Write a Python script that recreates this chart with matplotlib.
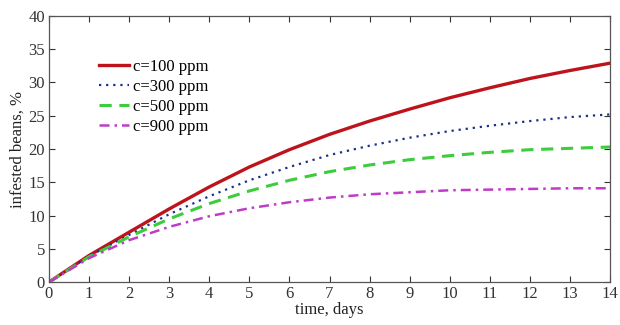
import matplotlib
matplotlib.use("Agg")
import matplotlib.pyplot as plt

plt.rcParams["font.family"] = ["Liberation Serif", "DejaVu Serif"]

days = [0, 1, 2, 3, 4, 5, 6, 7, 8, 9, 10, 11, 12, 13, 14]
c100 = [0, 4.0, 7.5, 11.0, 14.3, 17.3, 19.9, 22.2, 24.2, 26.0, 27.7, 29.2, 30.6, 31.8, 32.9]
c300 = [0, 3.9, 7.1, 10.2, 12.9, 15.3, 17.3, 19.1, 20.5, 21.7, 22.7, 23.5, 24.2, 24.8, 25.2]
c500 = [0, 3.8, 6.8, 9.5, 11.8, 13.7, 15.3, 16.6, 17.6, 18.4, 19.0, 19.5, 19.9, 20.1, 20.3]
c900 = [0, 3.6, 6.3, 8.3, 9.9, 11.1, 12.0, 12.7, 13.2, 13.5, 13.8, 13.9, 14.0, 14.1, 14.1]

x_ticks = list(range(0, 15))
y_ticks = list(range(0, 41, 5))

fig = plt.figure(figsize=(6.2, 3.25), dpi=100)
ax = fig.add_axes([0.079, 0.132, 0.905, 0.819])

ax.plot(days, c100, color="#bd141c", lw=2.4, ls="-", label="c=100 ppm")
ax.plot(days, c300, color="#1c2f8a", lw=1.6, ls=(0, (1, 2.2)), label="c=300 ppm")
ax.plot(days, c500, color="#3ccc3c", lw=2.2, ls=(0, (4, 2.5)), label="c=500 ppm")
ax.plot(days, c900, color="#c03cc8", lw=1.8, ls=(0, (4, 2, 1, 2)), label="c=900 ppm")

ax.set_xlim(0, 14)
ax.set_ylim(0, 40)
ax.set_xticks(x_ticks)
ax.set_yticks(y_ticks)
ax.tick_params(direction="in", top=True, right=True, length=4, width=0.8,
               labelsize=12, colors="#333333", pad=3)
for sp in ax.spines.values():
    sp.set_color("#555555")
    sp.set_linewidth(0.9)

ax.set_xlabel("time, days", fontsize=12, labelpad=0, color="#222222")
ax.set_ylabel("infested beans, %", fontsize=12, labelpad=2, color="#222222")

leg = ax.legend(loc="upper left", bbox_to_anchor=(0.077, 0.865), frameon=False,
                fontsize=12, handlelength=1.8, handletextpad=0.25,
                labelspacing=0.25, borderaxespad=0)

fig.savefig("out.png", dpi=100)
